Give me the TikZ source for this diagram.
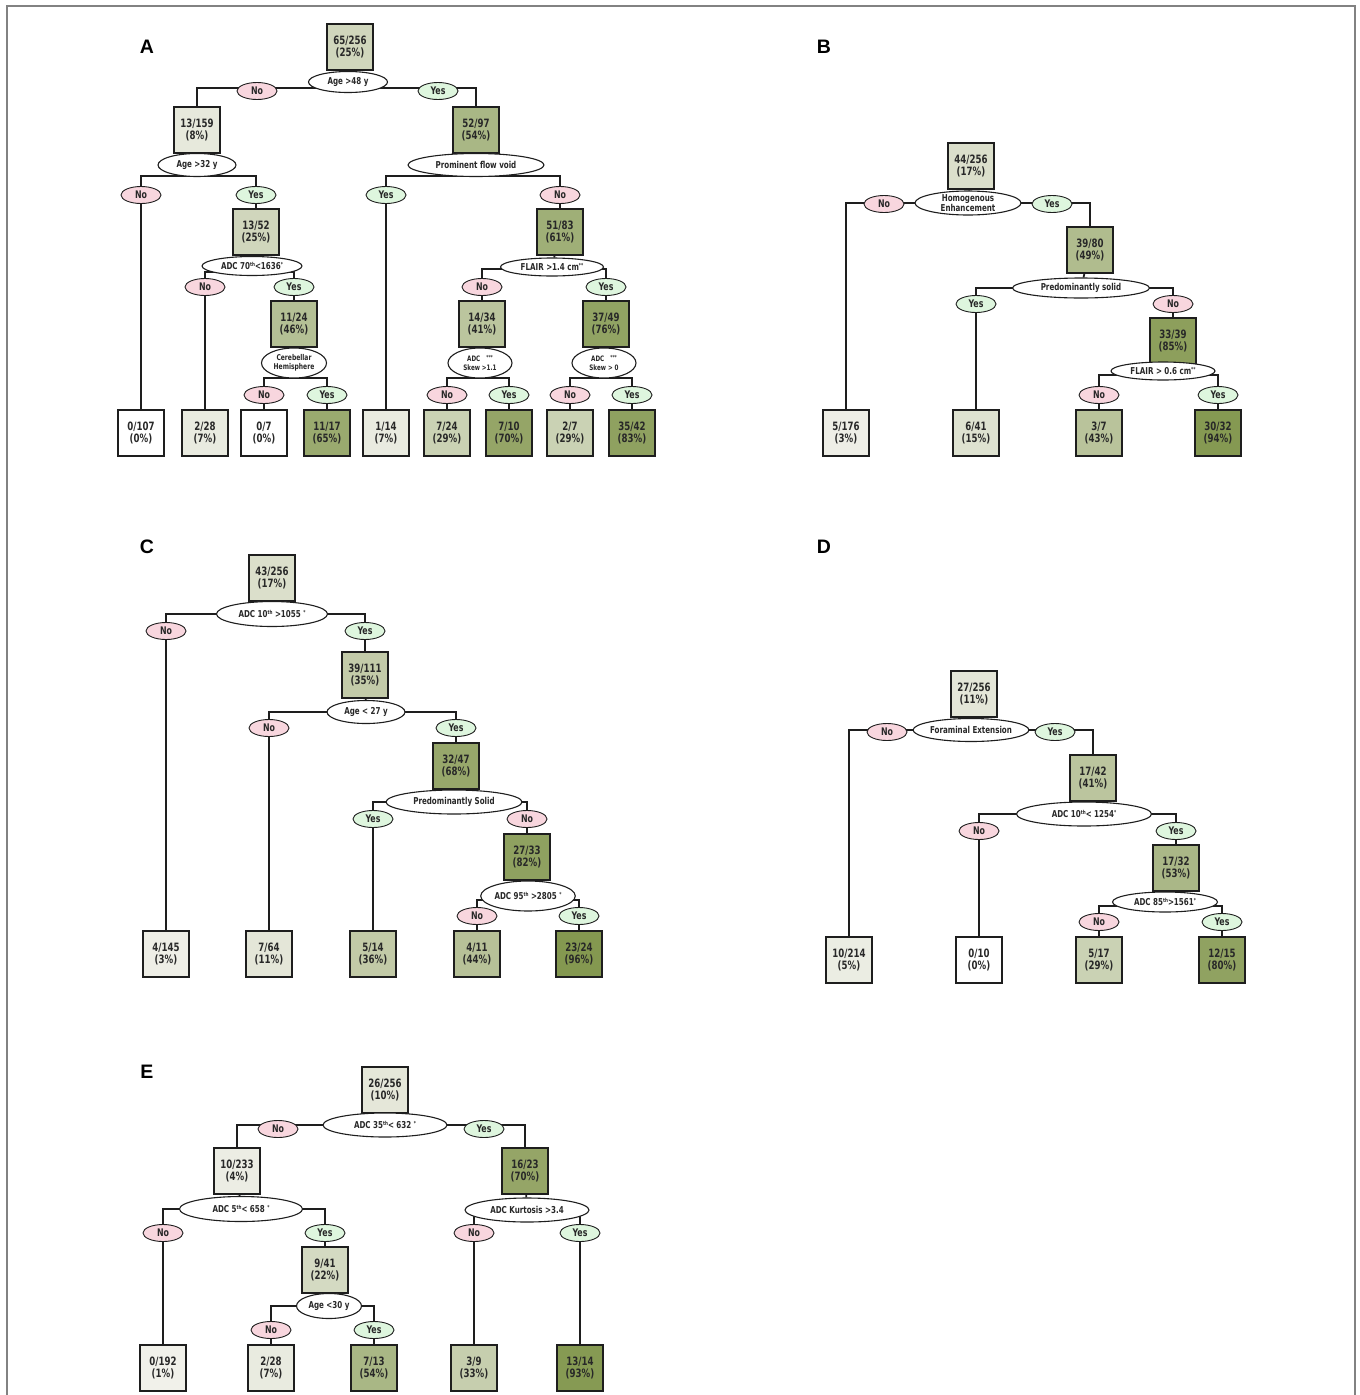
\documentclass[tikz,border=0pt]{standalone}
\usepackage{fontspec}
\setmainfont{DejaVu Sans}[FakeStretch=0.75]
\newfontfamily\panelfont{Liberation Sans}
\usetikzlibrary{shapes.geometric,backgrounds}

\definecolor{olv}{RGB}{132,152,80}
\definecolor{lgt}{RGB}{242,242,236}
\definecolor{ink}{RGB}{30,30,30}
\definecolor{txt}{RGB}{40,40,40}
\definecolor{nofill}{RGB}{248,214,222}
\definecolor{yesfill}{RGB}{222,246,222}
\definecolor{framegray}{RGB}{130,130,130}

% small raised marks (ordinal suffixes, significance stars)
\newcommand\supx[1]{\raisebox{0.55ex}{\fontsize{5.5}{5.5}\selectfont #1}}

\tikzset{
  cnt/.style={draw=ink, line width=2pt, minimum width=46pt, minimum height=46pt,
    inner sep=0pt, align=center, text=txt, font=\fontsize{11.5}{12.5}\selectfont\bfseries,
    fill=olv!#1!lgt},
  zero/.style={cnt=0, fill=white},
  cond/.style={ellipse, draw=ink, line width=1.1pt, fill=white, inner sep=0pt,
    align=center, text=txt, font=\fontsize{9.5}{10}\selectfont\bfseries},
  condsm/.style={cond, font=\fontsize{8}{9}\selectfont\bfseries},
  ans/.style={ellipse, draw=ink, line width=0.9pt, inner sep=0pt, text=txt,
    minimum width=40pt, minimum height=17pt, font=\fontsize{10.5}{10.5}\selectfont\bfseries},
  nolab/.style={ans, fill=nofill},
  yeslab/.style={ans, fill=yesfill},
  conn/.style={draw=ink, line width=1.8pt},
  panel/.style={font=\panelfont\fontsize{19.5}{20}\selectfont\bfseries},
}

\begin{document}
\begin{tikzpicture}[x=1pt, y=-1pt]
\useasboundingbox (0,0) rectangle (1360,1395);
\draw[framegray, line width=1.5pt] (7,1400) -- (7,6) -- (1355,6) -- (1355,1400);

% ---------------- Panel A ----------------
\node[panel] (pA) at (147,47) {A};
\node[cnt=31] (a0) at (350,47) {65/256\\(25\%)};
\node[cond, minimum width=79pt, minimum height=21pt] (a0s) at (348,82) {Age >48 y};
\node[cnt=10] (a1) at (197,130) {13/159\\(8\%)};
\node[cnt=66] (a2) at (476,130) {52/97\\(54\%)};
\node[nolab] (a0n) at (257,91) {No};
\node[yeslab] (a0y) at (438,91) {Yes};

\node[cond, minimum width=78pt, minimum height=23pt] (a1s) at (197,165) {Age >32 y};
\node[zero] (a3) at (141,433) {0/107\\(0\%)};
\node[cnt=31] (a4) at (256,232) {13/52\\(25\%)};
\node[nolab] (a1n) at (141,195) {No};
\node[yeslab] (a1y) at (256,195) {Yes};

\node[cond, minimum width=136pt, minimum height=23pt] (a2s) at (476,165) {Prominent flow void};
\node[cnt=8] (a5) at (386,433) {1/14\\(7\%)};
\node[cnt=75] (a6) at (560,232) {51/83\\(61\%)};
\node[yeslab] (a2y) at (386,195) {Yes};
\node[nolab] (a2n) at (560,195) {No};

\node[cond, minimum width=100pt, minimum height=19pt] (a4s) at (252,266) {ADC 70\supx{th}<1636\supx{*}};
\node[cnt=8] (a7) at (205,433) {2/28\\(7\%)};
\node[cnt=56] (a8) at (294,324) {11/24\\(46\%)};
\node[nolab] (a4n) at (205,287) {No};
\node[yeslab] (a4y) at (294,287) {Yes};

\node[cond, minimum width=103pt, minimum height=18pt] (a6s) at (552,267) {FLAIR >1.4 cm\supx{**}};
\node[cnt=50] (a9) at (482,324) {14/34\\(41\%)};
\node[cnt=88] (a10) at (606,324) {37/49\\(76\%)};
\node[nolab] (a6n) at (482,287) {No};
\node[yeslab] (a6y) at (606,287) {Yes};

\node[condsm, minimum width=65pt, minimum height=30pt] (a8s) at (294,363) {Cerebellar\\Hemisphere};
\node[zero] (a11) at (264,433) {0/7\\(0\%)};
\node[cnt=80] (a12) at (327,433) {11/17\\(65\%)};
\node[nolab] (a8n) at (264,395) {No};
\node[yeslab] (a8y) at (327,395) {Yes};

\node[condsm, font=\fontsize{7.5}{8.5}\selectfont\bfseries, minimum width=64pt, minimum height=30pt] (a9s) at (480,363) {ADC\hspace{6pt}\supx{***}\\Skew >1.1};
\node[cnt=36] (a13) at (447,433) {7/24\\(29\%)};
\node[cnt=85] (a14) at (509,433) {7/10\\(70\%)};
\node[nolab] (a9n) at (447,395) {No};
\node[yeslab] (a9y) at (509,395) {Yes};

\node[condsm, font=\fontsize{7.5}{8.5}\selectfont\bfseries, minimum width=64pt, minimum height=30pt] (a10s) at (604,363) {ADC\hspace{6pt}\supx{***}\\Skew > 0};
\node[cnt=36] (a15) at (570,433) {2/7\\(29\%)};
\node[cnt=90] (a16) at (632,433) {35/42\\(83\%)};
\node[nolab] (a10n) at (570,395) {No};
\node[yeslab] (a10y) at (632,395) {Yes};

% ---------------- Panel B ----------------
\node[panel] (pB) at (824,47) {B};
\node[cnt=21] (b0) at (971,166) {44/256\\(17\%)};
\node[cond, font=\fontsize{9.5}{9.5}\selectfont\bfseries, inner ysep=-2pt, minimum width=106pt, minimum height=24pt] (b0s) at (968,203) {Homogenous\\Enhancement};
\node[cnt=4] (b1) at (846,433) {5/176\\(3\%)};
\node[cnt=60] (b2) at (1090,250) {39/80\\(49\%)};
\node[nolab] (b0n) at (884,204) {No};
\node[yeslab] (b0y) at (1052,204) {Yes};

\node[cond, minimum width=137pt, minimum height=20pt] (b2s) at (1081,288) {Predominantly solid};
\node[cnt=18] (b3) at (976,433) {6/41\\(15\%)};
\node[cnt=92] (b4) at (1173,341) {33/39\\(85\%)};
\node[yeslab] (b2y) at (976,304) {Yes};
\node[nolab] (b2n) at (1173,304) {No};

\node[cond, minimum width=104pt, minimum height=18pt] (b4s) at (1163,371) {FLAIR > 0.6 cm\supx{**}};
\node[cnt=52] (b5) at (1099,433) {3/7\\(43\%)};
\node[cnt=99] (b6) at (1218,433) {30/32\\(94\%)};
\node[nolab] (b4n) at (1099,395) {No};
\node[yeslab] (b4y) at (1218,395) {Yes};

% ---------------- Panel C ----------------
\node[panel] (pC) at (147,547) {C};
\node[cnt=21] (c0) at (272,578) {43/256\\(17\%)};
\node[cond, minimum width=111pt, minimum height=25pt] (c0s) at (272,614) {ADC 10\supx{th} >1055 \supx{*}};
\node[cnt=4] (c1) at (166,954) {4/145\\(3\%)};
\node[cnt=43] (c2) at (365,675) {39/111\\(35\%)};
\node[nolab] (c0n) at (166,631) {No};
\node[yeslab] (c0y) at (365,631) {Yes};

\node[cond, minimum width=78pt, minimum height=23pt] (c2s) at (366,712) {Age < 27 y};
\node[cnt=13] (c3) at (269,954) {7/64\\(11\%)};
\node[cnt=83] (c4) at (456,766) {32/47\\(68\%)};
\node[nolab] (c2n) at (269,728) {No};
\node[yeslab] (c2y) at (456,728) {Yes};

\node[cond, minimum width=136pt, minimum height=24pt] (c4s) at (454,802) {Predominantly Solid};
\node[cnt=44] (c5) at (373,954) {5/14\\(36\%)};
\node[cnt=90] (c6) at (527,857) {27/33\\(82\%)};
\node[yeslab] (c4y) at (373,819) {Yes};
\node[nolab] (c4n) at (527,819) {No};

\node[cond, minimum width=80pt, minimum height=30pt] (c6s) at (528,896) {ADC 95\supx{th} >2805 \supx{*}};
\node[cnt=54] (c7) at (477,954) {4/11\\(44\%)};
\node[cnt=100] (c8) at (579,954) {23/24\\(96\%)};
\node[nolab] (c6n) at (477,916) {No};
\node[yeslab] (c6y) at (579,916) {Yes};

% ---------------- Panel D ----------------
\node[panel] (pD) at (824,547) {D};
\node[cnt=13] (d0) at (974,694) {27/256\\(11\%)};
\node[cond, minimum width=104pt, minimum height=23pt] (d0s) at (971,730) {Foraminal Extension};
\node[cnt=6] (d1) at (849,960) {10/214\\(5\%)};
\node[cnt=50] (d2) at (1093,778) {17/42\\(41\%)};
\node[nolab] (d0n) at (887,732) {No};
\node[yeslab] (d0y) at (1055,732) {Yes};

\node[cond, minimum width=135pt, minimum height=24pt] (d2s) at (1084,814) {ADC 10\supx{th}< 1254\supx{*}};
\node[zero] (d3) at (979,960) {0/10\\(0\%)};
\node[cnt=65] (d4) at (1176,868) {17/32\\(53\%)};
\node[nolab] (d2n) at (979,831) {No};
\node[yeslab] (d2y) at (1176,831) {Yes};

\node[cond, minimum width=105pt, minimum height=20pt] (d4s) at (1165,902) {ADC 85\supx{th}>1561\supx{*}};
\node[cnt=36] (d5) at (1099,960) {5/17\\(29\%)};
\node[cnt=89] (d6) at (1222,960) {12/15\\(80\%)};
\node[nolab] (d4n) at (1099,922) {No};
\node[yeslab] (d4y) at (1222,922) {Yes};

% ---------------- Panel E ----------------
\node[panel] (pE) at (147,1072) {E};
\node[cnt=12] (e0) at (385,1090) {26/256\\(10\%)};
\node[cond, minimum width=124pt, minimum height=24pt] (e0s) at (385,1125) {ADC 35\supx{th}< 632 \supx{*}};
\node[cnt=5] (e1) at (237,1171) {10/233\\(4\%)};
\node[cnt=85] (e2) at (525,1171) {16/23\\(70\%)};
\node[nolab] (e0n) at (278,1129) {No};
\node[yeslab] (e0y) at (484,1129) {Yes};

\node[cond, minimum width=123pt, minimum height=25pt] (e1s) at (241,1209) {ADC 5\supx{th}< 658 \supx{*}};
\node[cnt=1] (e3) at (163,1368) {0/192\\(1\%)};
\node[cnt=27] (e4) at (325,1270) {9/41\\(22\%)};
\node[nolab] (e1n) at (163,1233) {No};
\node[yeslab] (e1y) at (325,1233) {Yes};

\node[cond, minimum width=65pt, minimum height=25pt] (e4s) at (329,1306) {Age <30 y};
\node[cnt=8] (e5) at (271,1368) {2/28\\(7\%)};
\node[cnt=66] (e6) at (374,1368) {7/13\\(54\%)};
\node[nolab] (e4n) at (271,1330) {No};
\node[yeslab] (e4y) at (374,1330) {Yes};

\node[cond, minimum width=124pt, minimum height=24pt] (e2s) at (527,1210) {ADC Kurtosis >3.4};
\node[cnt=40] (e7) at (474,1368) {3/9\\(33\%)};
\node[cnt=98] (e8) at (580,1368) {13/14\\(93\%)};
\node[nolab] (e2n) at (474,1233) {No};
\node[yeslab] (e2y) at (580,1233) {Yes};

% ---------------- connectors (behind the nodes) ----------------
\begin{scope}[on background layer]
  % box to its question
  \foreach \n in {a0,a1,a2,a4,a6,a8,a9,a10,b0,b2,b4,c0,c2,c4,c6,d0,d2,d4,e0,e1,e2,e4}
    \draw[conn] (\n) -- (\n s);
  % branches: left child, question, right child
  \draw[conn] (a1.north) |- ([yshift=-6pt]a0s.center) -| (a2.north);
  \draw[conn] (a3.north) |- ([yshift=-11pt]a1s.center) -| (a4.north);
  \draw[conn] (a5.north) |- ([yshift=-11pt]a2s.center) -| (a6.north);
  \draw[conn] (a7.north) |- ([yshift=-6pt]a4s.center) -| (a8.north);
  \draw[conn] (a9.north) |- ([yshift=-2pt]a6s.center) -| (a10.north);
  \draw[conn] (a11.north) |- ([yshift=-15pt]a8s.center) -| (a12.north);
  \draw[conn] (a13.north) |- ([yshift=-15pt]a9s.center) -| (a14.north);
  \draw[conn] (a15.north) |- ([yshift=-15pt]a10s.center) -| (a16.north);

  \draw[conn] (b1.north) |- (b0s.center) -| (b2.north);
  \draw[conn] (b3.north) |- (b2s.center) -| (b4.north);
  \draw[conn] (b5.north) |- ([yshift=-4pt]b4s.center) -| (b6.north);

  \draw[conn] (c1.north) |- (c0s.center) -| (c2.north);
  \draw[conn] (c3.north) |- (c2s.center) -| (c4.north);
  \draw[conn] (c5.north) |- (c4s.center) -| (c6.north);
  \draw[conn] (c7.north) |- ([yshift=-4pt]c6s.center) -| (c8.north);

  \draw[conn] (d1.north) |- (d0s.center) -| (d2.north);
  \draw[conn] (d3.north) |- (d2s.center) -| (d4.north);
  \draw[conn] (d5.north) |- ([yshift=-4pt]d4s.center) -| (d6.north);

  \draw[conn] (e1.north) |- (e0s.center) -| (e2.north);
  \draw[conn] (e3.north) |- (e1s.center) -| (e4.north);
  \draw[conn] (e5.north) |- (e4s.center) -| (e6.north);
  \draw[conn] (e7.north) |- (e2s.center) -| (e8.north);
\end{scope}
\end{tikzpicture}
\end{document}
